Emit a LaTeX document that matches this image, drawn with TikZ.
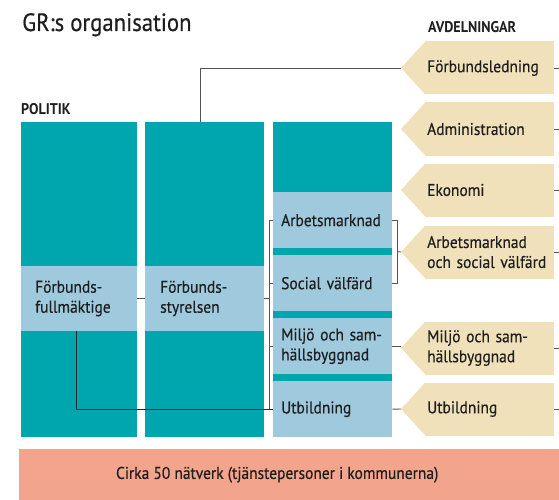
\documentclass[tikz,border=0pt]{standalone}
\usepackage{fontspec}
\setmainfont{PT Sans}[FakeStretch=0.91, UprightFeatures={FakeBold=0.4}]
\usetikzlibrary{calc}
\definecolor{grteal}{HTML}{00A6AE}
\definecolor{grblue}{HTML}{9FC9DC}
\definecolor{grbeige}{HTML}{F0E1BA}
\definecolor{grsalmon}{HTML}{F3A48D}
\definecolor{grtext}{HTML}{1E1E1E}
\definecolor{grline}{HTML}{555555}
\tikzset{
  txt/.style={text=grtext, font=\fontsize{17}{20}\selectfont},
  head/.style={text=grtext, font=\fontsize{15.5}{17}\selectfont\bfseries, anchor=base west, inner sep=0pt},
  col/.style={fill=grteal, minimum width=#1, minimum height=315pt, inner sep=0pt, anchor=north west},
  band/.style={txt, fill=grblue, minimum height=65pt, inner xsep=#1, align=left, anchor=west},
  sect/.style={txt, fill=grblue, minimum height=56pt, text width=103pt, inner xsep=8pt, align=left, anchor=north west},
  avd/.style={txt, fill=grbeige, minimum height=53pt, text width=125pt, inner xsep=2pt, align=left, anchor=west},
  conn/.style={draw=grline, line width=0.9pt},
}
\begin{document}
\begin{tikzpicture}[x=1pt, y=-1pt]
  \useasboundingbox (0,0) rectangle (559,500);
  % headings
  \node[text=grtext, font=\fontsize{25}{28}\selectfont, anchor=base west, inner sep=0pt] (title) at (22,31) {GR:s organisation};
  \node[head] (politik) at (21,115) {POLITIK};
  \node[head] (avdelningar) at (428,33) {AVDELNINGAR};
  % politik columns
  \node[col=116pt] (p1) at (21,122) {};
  \node[col=119pt] (p2) at (145,122) {};
  \node[col=119pt] (p3) at (273,122) {};
  \node[band=14pt, text width=88pt] (fm) at (21,298.5) {Förbunds-\\fullmäktige};
  \node[band=15pt, text width=89pt] (fs) at (145,298.5) {Förbunds-\\styrelsen};
  \node[sect] (am) at (273,192) {Arbetsmarknad};
  \node[sect] (sv) at (273,255) {Social välfärd};
  \node[sect] (mb) at (273,318) {Miljö och sam-\\hällsbyggnad};
  \node[sect] (ut) at (273,381) {Utbildning};
  % avdelningar
  \foreach \y/\n/\t in {68/fl/Förbundsledning, 129/adm/Administration, 190/eko/Ekonomi,
      252/ams/{Arbetsmarknad\\och social välfärd}, 348/msh/{Miljö och sam-\\hällsbyggnad}, 409/utb/Utbildning} {
    \node[avd] (\n) at (425,\y) {\t};
    \coordinate (\n-tip) at ([xshift=-24pt]\n.west);
    \fill[grbeige] ([xshift=0.5pt]\n.north west) -- (\n-tip) -- ([xshift=0.5pt]\n.south west) -- cycle;
    \draw[conn] (\n.east) -- ++(6,0);
  }
  % natverk
  \node[fill=grsalmon, minimum width=545pt, minimum height=51pt, inner sep=0pt, anchor=north west] (net) at (19,449) {};
  \node[txt] (nettext) at ([xshift=-14.5pt]net.center) {Cirka 50 nätverk (tjänstepersoner i kommunerna)};
  % lines
  \draw[conn] ([xshift=-4.5pt]p2.north) |- (fl-tip);
  \draw[conn] (fm.east) -- (fs.west);
  \draw[conn] (fs.east) -- ++(5,0);
  \draw[conn] (am.west) -- ++(-4,0) |- (ut.west);
  \draw[conn] (sv.west) -- ++(-4,0);
  \draw[conn] (mb.west) -- ++(-4,0);
  \draw[conn, draw=black!85] ([xshift=-3pt]fm.south) |- (ut.west);
  \draw[conn] (am.east) -- ++(5,0) |- (sv.east);
  \draw[conn] ($(am.east)!.5!(sv.east)+(5,0)$) -- (ams-tip);
  \draw[conn] (mb.east) -- (mb.east -| msh-tip);
  \draw[conn] (ut.east) -- (utb-tip);
\end{tikzpicture}
\end{document}
